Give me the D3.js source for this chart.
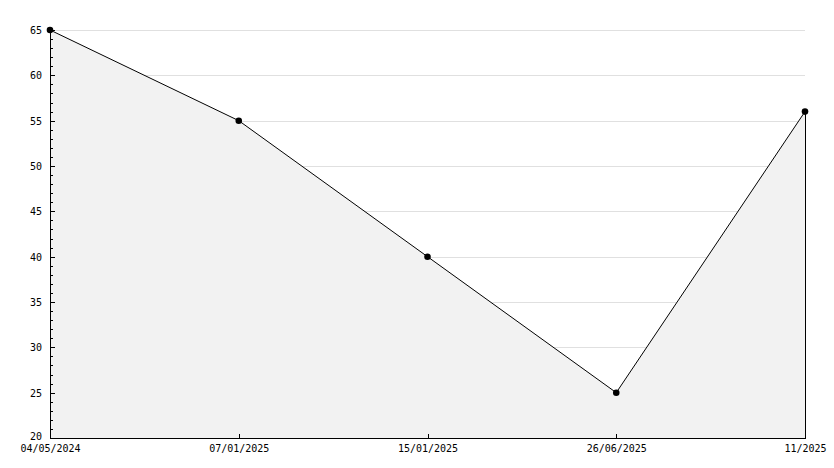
<!DOCTYPE html>
<html>
<head>
<meta charset="utf-8">
<script src="https://cdn.jsdelivr.net/npm/d3@7"></script>
<style>
  html, body { margin: 0; padding: 0; background: #fff; }
  svg { display: block; }
  text { font-family: "DejaVu Sans Mono", monospace; font-size: 10px; fill: #000; }
</style>
</head>
<body>
<div id="chart"></div>
<script>
const dateLabels = ['04/05/2024', '07/01/2025', '15/01/2025', '26/06/2025', '11/2025'];
const values = [65, 55, 40, 25, 56];
const yTicks = [20, 25, 30, 35, 40, 45, 50, 55, 60, 65];

const W = 834, H = 468;
const margin = {top: 30, right: 29, bottom: 30, left: 50};
const width = W - margin.left - margin.right;
const height = H - margin.top - margin.bottom;

const svg = d3.select('#chart')
  .append('svg')
    .attr('width', W)
    .attr('height', H)
    .attr('shape-rendering', 'crispEdges');

const g = svg.append('g')
  .attr('transform', 'translate(' + margin.left + ',' + margin.top + ')');

const xScale = d3.scalePoint()
  .domain(d3.range(dateLabels.length))
  .range([0, width]);

const yScale = d3.scaleLinear()
  .domain([20, 65])
  .range([height, 0]);

const data = values.map((v, i) => ({i: i, v: v}));

// grid
g.append('g')
  .selectAll('line')
  .data(yTicks.filter(t => t > 20))
  .enter()
  .append('line')
    .attr('x1', 0)
    .attr('x2', width)
    .attr('y1', d => Math.round(yScale(d)) + 0.5)
    .attr('y2', d => Math.round(yScale(d)) + 0.5)
    .attr('stroke', '#e0e0e0');

// area
const area = d3.area()
  .x(d => xScale(d.i))
  .y0(height)
  .y1(d => yScale(d.v));

g.append('path')
  .datum(data)
  .attr('d', area)
  .attr('fill', '#f2f2f2')
  .attr('shape-rendering', 'auto');

// right edge of the fill
const last = data[data.length - 1];
g.append('line')
  .attr('x1', xScale(last.i) + 0.5)
  .attr('x2', xScale(last.i) + 0.5)
  .attr('y1', yScale(last.v))
  .attr('y2', height)
  .attr('stroke', '#000');

// line
const line = d3.line()
  .x(d => xScale(d.i))
  .y(d => yScale(d.v));

g.append('path')
  .datum(data)
  .attr('d', line)
  .attr('fill', 'none')
  .attr('stroke', '#000')
  .attr('stroke-width', 1)
  .attr('shape-rendering', 'auto');

// y axis, minor ticks pointing inward
const yAxis = g.append('g');
yAxis.call(d3.axisRight(yScale).tickValues(d3.range(20, 66, 1)).tickSize(3).tickFormat(''));
yAxis.select('.domain').remove();

const yMajor = g.append('g')
  .call(d3.axisRight(yScale).tickValues(yTicks).tickSize(5).tickFormat(d3.format('d')));
yMajor.select('.domain').remove();
yMajor.selectAll('.tick text')
  .attr('x', -8)
  .attr('text-anchor', 'end')
  .attr('dy', d => d === 20 ? '0.15em' : '0.35em');

g.append('line')
  .attr('x1', 0.5).attr('x2', 0.5)
  .attr('y1', 0).attr('y2', height)
  .attr('stroke', '#000');

// x axis, ticks pointing up
const xAxis = g.append('g')
  .attr('transform', 'translate(0,' + height + ')')
  .call(d3.axisTop(xScale).tickSize(4).tickFormat(i => dateLabels[i]));
xAxis.select('.domain').remove();
xAxis.selectAll('.tick text')
  .attr('y', 7)
  .attr('dy', '0.71em');

g.append('line')
  .attr('x1', 0).attr('x2', width + 1)
  .attr('y1', height + 0.5).attr('y2', height + 0.5)
  .attr('stroke', '#000');

// markers
g.selectAll('.pt')
  .data(data)
  .enter()
  .append('path')
    .attr('class', 'pt')
    .attr('transform', d => 'translate(' + xScale(d.i) + ',' + yScale(d.v) + ')')
    .attr('d', d3.symbol().type(d3.symbolCircle).size(34))
    .attr('fill', '#000')
    .attr('shape-rendering', 'auto');
</script>
</body>
</html>
